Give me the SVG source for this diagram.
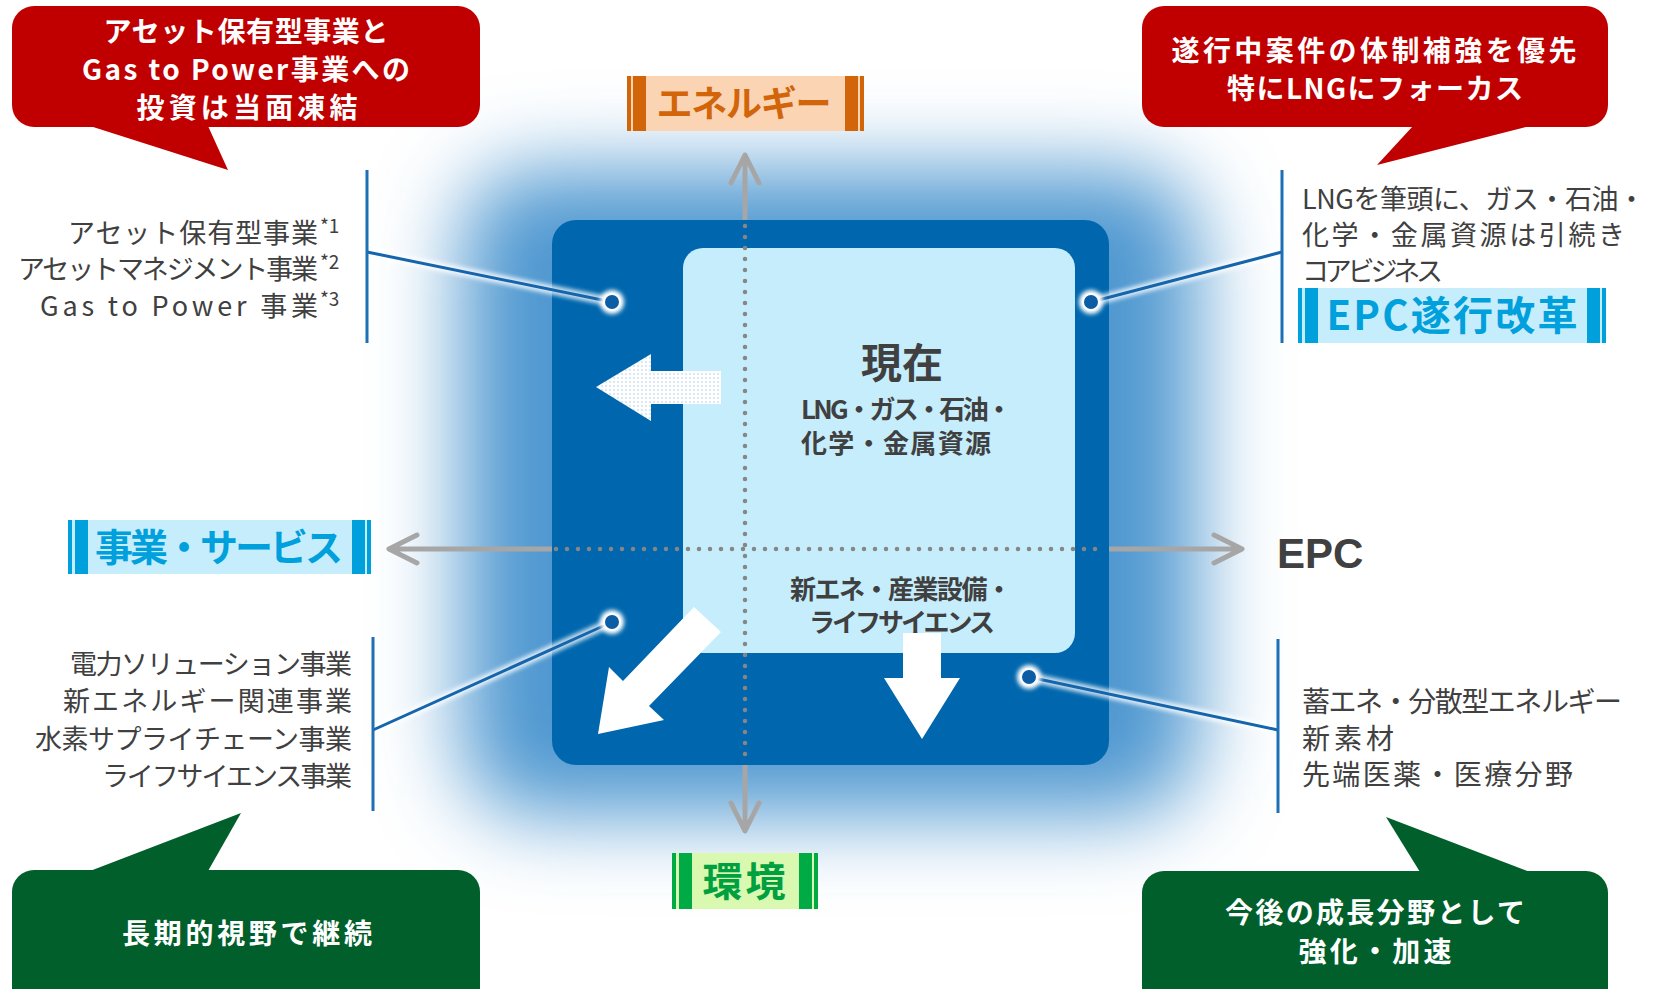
<svg xmlns="http://www.w3.org/2000/svg" width="1655" height="989" viewBox="0 0 1655 989">
<defs>
<style>
.t{font-family:"Noto Sans CJK JP","Liberation Sans",sans-serif;}
.g{fill:#404040;font-size:27px;}
.w{fill:#ffffff;font-size:28px;font-weight:bold;}
.b{fill:#404040;font-weight:bold;}
.axis{stroke:#A6A6A6;stroke-width:5;fill:none;stroke-linecap:round;stroke-linejoin:round;}
.dot{stroke:#868686;stroke-width:4.5;fill:none;stroke-linecap:round;stroke-dasharray:0 11;}
.lead{stroke:#1565AC;stroke-width:3;fill:none;}
.halo{stroke:#ffffff;stroke-width:9;fill:none;opacity:0.8;}
.brk{stroke:#1F6FB4;stroke-width:3;}
.red{fill:#C00000;}
.grn{fill:#005F2B;}
</style>
<filter id="blur" x="-30%" y="-30%" width="160%" height="160%"><feGaussianBlur stdDeviation="42"/></filter>
<filter id="soft" x="-50%" y="-50%" width="200%" height="200%"><feGaussianBlur stdDeviation="2"/></filter>
<pattern id="dots" width="4" height="4" patternUnits="userSpaceOnUse"><rect width="4" height="4" fill="#ffffff"/><circle cx="2" cy="2" r="0.8" fill="#A9CFEA"/></pattern>
</defs>
<rect width="1655" height="989" fill="#ffffff"/>

<g id="glow"><rect x="462" y="170" width="735" height="645" rx="70" fill="#5098D0" filter="url(#blur)"/></g>

<g id="connectors">
<path class="axis" d="M745 157 V829 M731 183 L745 155 L759 183 M731 803 L745 831 L759 803"/>
<path class="axis" d="M391 549 H1240 M417 535 L389 549 L417 563 M1214 535 L1242 549 L1214 563"/>
</g>

<g id="outer-box"><rect x="552" y="220" width="557" height="545" rx="24" fill="#0067AE"/></g>
<g id="inner-box"><rect x="683" y="248" width="392" height="405" rx="20" fill="#C6EDFC"/></g>

<g id="axis-dots">
<path class="dot" d="M745 226 V762"/>
<path class="dot" d="M556 549 H1105"/>
</g>

<g id="current">
<text class="t b" x="902" y="378" font-size="41" text-anchor="middle">現在</text>
<text class="t b" x="801" y="419" font-size="26" textLength="211">LNG・ガス・石油・</text>
<text class="t b" x="801" y="453" font-size="26" textLength="190">化学・金属資源</text>
<text class="t b" x="901" y="599" font-size="26" text-anchor="middle" textLength="222">新エネ・産業設備・</text>
<text class="t b" x="902" y="632" font-size="26" text-anchor="middle" textLength="186">ライフサイエンス</text>
</g>

<g id="arrow-left"><polygon points="596,387 651,354 651,371 721,371 721,404 651,404 651,421" fill="url(#dots)"/></g>
<g id="arrow-down"><polygon points="903,633 941,633 941,678 960,678 922,739 884,678 903,678" fill="#ffffff"/></g>
<g id="arrow-diag"><polygon points="694,607 721,632 649,706 664,720 598,734 609,667 623,681" fill="#ffffff"/></g>

<g id="leaders">
<path class="halo" filter="url(#soft)" d="M367 252 L612 302 M1282 252 L1091 302 M373 730 L612 622 M1278 730 L1029 677"/>
<path class="lead" d="M367 252 L612 302 M1282 252 L1091 302 M373 730 L612 622 M1278 730 L1029 677"/>
<g fill="#ffffff" filter="url(#soft)"><circle cx="612" cy="302" r="12"/><circle cx="1091" cy="302" r="12"/><circle cx="612" cy="622" r="12"/><circle cx="1029" cy="677" r="12"/></g>
<g fill="#0B5DA5" stroke="#ffffff" stroke-width="2"><circle cx="612" cy="302" r="8"/><circle cx="1091" cy="302" r="8"/><circle cx="612" cy="622" r="8"/><circle cx="1029" cy="677" r="8"/></g>
<line class="brk" x1="367" y1="170" x2="367" y2="343"/>
<line class="brk" x1="1282" y1="170" x2="1282" y2="343"/>
<line class="brk" x1="373" y1="637" x2="373" y2="811"/>
<line class="brk" x1="1278" y1="639" x2="1278" y2="813"/>
</g>

<g id="label-energy">
<rect x="627" y="76" width="237" height="55" fill="#FBD4B4"/>
<rect x="627" y="76" width="4" height="55" fill="#D2650A"/><rect x="633" y="76" width="13" height="55" fill="#D2650A"/>
<rect x="845" y="76" width="13" height="55" fill="#D2650A"/><rect x="860" y="76" width="4" height="55" fill="#D2650A"/>
<text class="t" x="744" y="117" font-size="36" font-weight="bold" fill="#D2650A" text-anchor="middle" textLength="175">エネルギー</text>
</g>

<g id="label-service">
<rect x="68" y="520" width="303" height="54" fill="#C6EDFC"/>
<rect x="68" y="520" width="4" height="54" fill="#00A0DC"/><rect x="75" y="520" width="13" height="54" fill="#00A0DC"/>
<rect x="352" y="520" width="13" height="54" fill="#00A0DC"/><rect x="367" y="520" width="4" height="54" fill="#00A0DC"/>
<text class="t" x="219" y="561" font-size="38" font-weight="bold" fill="#00A0DC" text-anchor="middle" textLength="248">事業・サービス</text>
</g>

<g id="label-epc">
<text x="1277" y="568" font-family="Liberation Sans, Arial, sans-serif" font-size="42" font-weight="bold" fill="#404040">EPC</text>
</g>

<g id="label-env">
<rect x="672" y="853" width="146" height="56" fill="#DAF9B0"/>
<rect x="672" y="853" width="4" height="56" fill="#00AA45"/><rect x="679" y="853" width="13" height="56" fill="#00AA45"/>
<rect x="799" y="853" width="13" height="56" fill="#00AA45"/><rect x="814" y="853" width="4" height="56" fill="#00AA45"/>
<text class="t" x="744" y="896" font-size="40" font-weight="bold" fill="#00A040" text-anchor="middle" textLength="83">環境</text>
</g>

<g id="label-epc-reform">
<rect x="1298" y="288" width="308" height="55" fill="#C6EDFC"/>
<rect x="1298" y="288" width="4" height="55" fill="#00A0DC"/><rect x="1305" y="288" width="13" height="55" fill="#00A0DC"/>
<rect x="1587" y="288" width="13" height="55" fill="#00A0DC"/><rect x="1602" y="288" width="4" height="55" fill="#00A0DC"/>
<text class="t" x="1452" y="330" font-size="40" font-weight="bold" fill="#00A0DC" text-anchor="middle" textLength="251">EPC遂行改革</text>
</g>

<g id="list-top-left" class="t g">
<text x="68" y="243" textLength="250">アセット保有型事業</text>
<text x="320" y="233" font-size="19">*1</text>
<text x="18" y="279" textLength="300">アセットマネジメント事業</text>
<text x="320" y="269" font-size="19">*2</text>
<text x="40" y="316" textLength="278">Gas to Power 事業</text>
<text x="320" y="306" font-size="19">*3</text>
</g>

<g id="list-top-right" class="t g">
<text x="1302" y="209" textLength="343">LNGを筆頭に、ガス・石油・</text>
<text x="1302" y="245" textLength="323">化学・金属資源は引続き</text>
<text x="1302" y="281" textLength="141">コアビジネス</text>
</g>

<g id="list-bottom-left" class="t g">
<text x="70" y="674" textLength="282">電力ソリューション事業</text>
<text x="63" y="711" textLength="289">新エネルギー関連事業</text>
<text x="35" y="749" textLength="317">水素サプライチェーン事業</text>
<text x="102" y="786" textLength="250">ライフサイエンス事業</text>
</g>

<g id="list-bottom-right" class="t g">
<text x="1302" y="712" font-size="28" textLength="320">蓄エネ・分散型エネルギー</text>
<text x="1302" y="749" font-size="28" textLength="92">新素材</text>
<text x="1302" y="785" font-size="28" textLength="271">先端医薬・医療分野</text>
</g>

<g id="callout-top-left">
<rect class="red" x="12" y="6" width="468" height="121" rx="22"/>
<polygon class="red" points="90,126 228,170 208,126"/>
<text class="t w" x="246" y="42" text-anchor="middle" textLength="285">アセット保有型事業と</text>
<text class="t w" x="246" y="80" text-anchor="middle" textLength="328">Gas to Power事業への</text>
<text class="t w" x="247" y="118" text-anchor="middle" textLength="221">投資は当面凍結</text>
</g>

<g id="callout-top-right">
<rect class="red" x="1142" y="6" width="466" height="121" rx="22"/>
<polygon class="red" points="1413,126 1377,165 1530,126"/>
<text class="t w" x="1374" y="61" text-anchor="middle" textLength="405">遂行中案件の体制補強を優先</text>
<text class="t w" x="1375" y="99" text-anchor="middle" textLength="296">特にLNGにフォーカス</text>
</g>

<g id="callout-bottom-left">
<rect class="grn" x="12" y="870" width="468" height="140" rx="22"/>
<polygon class="grn" points="90,871 241,813 208,871"/>
<text class="t w" x="247" y="944" text-anchor="middle" textLength="250">長期的視野で継続</text>
</g>

<g id="callout-bottom-right">
<rect class="grn" x="1142" y="871" width="466" height="140" rx="22"/>
<polygon class="grn" points="1420,872 1386,817 1530,872"/>
<text class="t w" x="1375" y="923" text-anchor="middle" textLength="300">今後の成長分野として</text>
<text class="t w" x="1375" y="962" text-anchor="middle" textLength="153">強化・加速</text>
</g>
</svg>
